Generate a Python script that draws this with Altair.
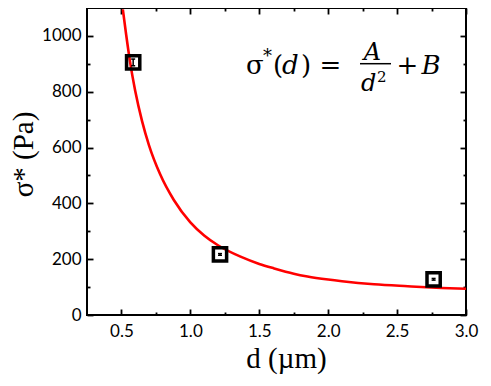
import altair as alt
import pandas as pd

# ---- data ----
curve_d = [0.51, 0.534, 0.563, 0.60, 0.65, 0.70, 0.78, 0.88, 1.0, 1.1, 1.2, 1.364,
           1.5, 1.607, 1.75, 1.85, 2.0, 2.1, 2.333, 2.578, 2.821, 3.0]
curve_s = [1095, 1005, 905, 803, 694, 608, 505, 412, 332, 285, 250, 209,
           183, 167, 148, 138, 127, 121, 110, 103, 97, 94]

pt_d = [0.585, 1.215, 2.765]
pt_s = [905, 217, 128]
pt_err = [12, 3, 3]

x_major = [0.5, 1.0, 1.5, 2.0, 2.5, 3.0]
x_minor = [0.75, 1.25, 1.75, 2.25, 2.75]
y_major = [0, 200, 400, 600, 800, 1000]
y_minor = [100, 300, 500, 700, 900]

W, H = 379, 307
LABEL_FONT = "Lato"
TITLE_FONT = "Liberation Serif"
EQ_FONT = "DejaVu Serif"

curve = pd.DataFrame({"d": curve_d, "s": curve_s})
pts = pd.DataFrame({
    "d": pt_d,
    "s": pt_s,
    "lo": [s - e for s, e in zip(pt_s, pt_err)],
    "hi": [s + e for s, e in zip(pt_s, pt_err)],
})

xs = alt.Scale(domain=[0.25, 3.0], nice=False, zero=False)
ys = alt.Scale(domain=[0, 1100], nice=False, zero=False)


def tick_axis(orient, values, size, offset):
    return alt.Axis(orient=orient, offset=offset, values=values, labels=False,
                    domain=False, grid=False, ticks=True, tickSize=size,
                    tickWidth=1.8, tickColor="black", title=None)


main_x = alt.Axis(orient="bottom", values=x_major, format=".1f", labelFont=LABEL_FONT,
                  labelFontSize=17, labelColor="black", labelPadding=8, labelFlush=False,
                  ticks=False, tickSize=0, domain=False, grid=False,
                  title="d (µm)", titleFont=TITLE_FONT, titleFontSize=29,
                  titleFontWeight="normal", titleColor="black",
                  titleX=199, titleY=43, titleBaseline="middle", titleAlign="center")
main_y = alt.Axis(orient="left", values=y_major, format="d", labelFont=LABEL_FONT,
                  labelFontSize=17, labelColor="black", labelPadding=6, labelFlush=False,
                  ticks=False, tickSize=0, domain=False, grid=False,
                  title="σ* (Pa)", titleFont=TITLE_FONT, titleFontSize=29,
                  titleFontWeight="normal", titleColor="black", titleAngle=270,
                  titleX=-64, titleY=146, titleBaseline="middle", titleAlign="center")

line = alt.Chart(curve).mark_line(color="#ff0000", strokeWidth=2.6, clip=True,
                                  interpolate="monotone").encode(
    x=alt.X("d:Q", scale=xs, axis=main_x),
    y=alt.Y("s:Q", scale=ys, axis=main_y),
)

squares = alt.Chart(pts).mark_point(shape="square", filled=False, color="black",
                                    strokeWidth=3.5, size=175, opacity=1).encode(
    x=alt.X("d:Q", scale=xs, axis=tick_axis("top", x_major, 6, -H)),
    y=alt.Y("s:Q", scale=ys, axis=tick_axis("right", y_major, 6, -W)),
)

bars = alt.Chart(pts).mark_rule(color="black", strokeWidth=1.5).encode(
    x=alt.X("d:Q", scale=xs, axis=tick_axis("top", x_minor, 3, -H)),
    y=alt.Y("lo:Q", scale=ys, axis=tick_axis("right", y_minor, 3, -W)),
    y2="hi:Q",
)

caps_lo = alt.Chart(pts).mark_tick(orient="horizontal", size=4, thickness=1.5,
                                   color="black", opacity=1).encode(
    x=alt.X("d:Q", scale=xs, axis=tick_axis("bottom", x_major, 6, -H)),
    y=alt.Y("lo:Q", scale=ys, axis=tick_axis("left", y_major, 6, -W)),
)

caps_hi = alt.Chart(pts).mark_tick(orient="horizontal", size=4, thickness=1.5,
                                   color="black", opacity=1).encode(
    x=alt.X("d:Q", scale=xs, axis=tick_axis("bottom", x_minor, 3, -H)),
    y=alt.Y("hi:Q", scale=ys, axis=tick_axis("left", y_minor, 3, -W)),
)

one = alt.Data(values=[{"k": 0}])


def eq(txt, x, y, size=26, italic=False, align="left"):
    kw = dict(text=txt, font=EQ_FONT, fontSize=size, align=align,
              baseline="alphabetic", color="black")
    if italic:
        kw["fontStyle"] = "italic"
    return alt.Chart(one).mark_text(**kw).encode(x=alt.value(x), y=alt.value(y))


eq_layers = [
    eq("σ", 159, 66),
    eq("*", 176, 54, size=18),
    eq("(", 186, 66),
    eq("d", 195, 66, italic=True),
    eq(")", 214, 66),
    eq("=", 243.5, 66, align="center"),
    eq("A", 285.5, 52, size=24, italic=True, align="center"),
    eq("d", 274, 83, size=24, italic=True),
    eq("2", 290, 74, size=15),
    eq("+", 320.5, 66, align="center"),
    eq("B", 344, 66, italic=True, align="center"),
    alt.Chart(one).mark_rule(color="black", strokeWidth=1.5).encode(
        x=alt.value(273), x2=alt.value(304), y=alt.value(55.7)),
]

chart = alt.layer(line, squares, bars, caps_lo, caps_hi, *eq_layers).resolve_axis(
    x="independent", y="independent"
).properties(
    width=W, height=H,
    padding={"left": 79, "top": 0, "right": 17, "bottom": 63},
    autosize=alt.AutoSizeParams(type="none"),
    background="white",
).configure_view(stroke="black", strokeWidth=2)

chart.save("out.html", embed_options={"renderer": "svg", "actions": False})
